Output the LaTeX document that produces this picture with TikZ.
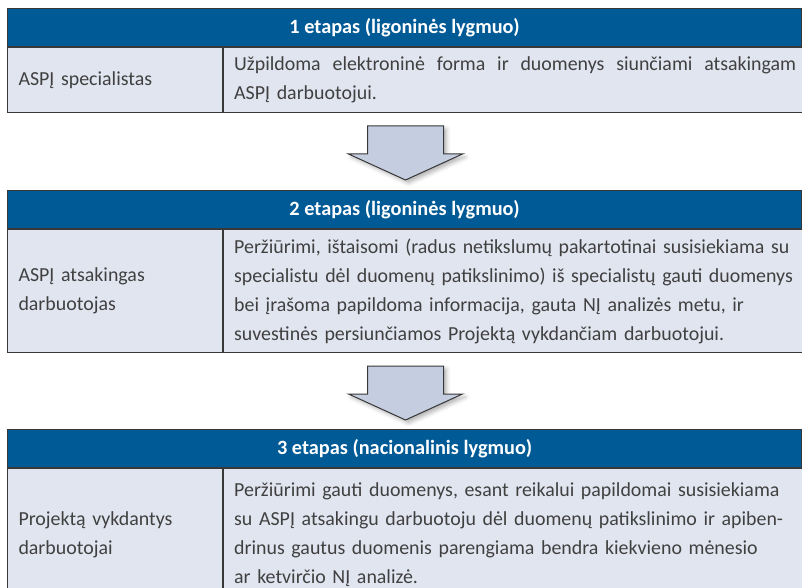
\documentclass[tikz,border=0pt]{standalone}
\usepackage{fontspec}
\setmainfont{Carlito}
\frenchspacing
\usetikzlibrary{shadows.blur,calc,backgrounds}

\definecolor{hdrblue}{HTML}{005A96}
\definecolor{cellfill}{HTML}{E1E5F0}
\definecolor{arrowfill}{HTML}{C5CDE0}
\definecolor{rulegrey}{HTML}{383838}
\definecolor{textgrey}{HTML}{404040}

% a line set flush to both margins
\newcommand{\fullline}[2]{\hbox to #1{\spaceskip=\fontdimen2\font plus 1fil\relax #2}}

\begin{document}
\begin{tikzpicture}[x=1pt,y=-1pt,
  frame/.style={draw=rulegrey, line width=1pt},
  bodyfont/.style={font=\fontsize{19.9}{29}\selectfont, text=textgrey},
  headbox/.style={frame, fill=hdrblue, text=white,
    font=\bfseries\fontsize{20.3}{24}\selectfont,
    minimum width=794pt, minimum height=38pt, inner sep=0pt, anchor=north west},
  rolebox/.style={frame, fill=cellfill, bodyfont, anchor=north west,
    text width=193pt, inner xsep=11pt, inner ysep=0pt, align=left},
  taskbox/.style={frame, fill=cellfill, anchor=north west,
    minimum width=579pt, inner sep=0pt},
  tasktext/.style={bodyfont, anchor=west, text width=575pt, align=left,
    inner sep=0pt, xshift=11pt},
  tableshadow/.style={fill=white, blur shadow={shadow xshift=1pt,
    shadow yshift=-3pt, shadow blur radius=4pt, shadow opacity=35}},
  arrowbody/.style={frame, fill=arrowfill, line join=miter,
    blur shadow={shadow xshift=3pt, shadow yshift=-3pt,
    shadow blur radius=4pt, shadow opacity=30}},
  pics/downarrow/.style={code={
    \draw[arrowbody] (-38,0) -- (38,0) -- (38,28) -- (57,28) -- (0,54)
      -- (-57,28) -- (-38,28) -- cycle;}}
]
\useasboundingbox (0,0) rectangle (802,588);

% stage 1
\node[headbox] (h1) at (7,8) {1 etapas (ligoninės lygmuo)};
\node[rolebox, minimum height=65pt] (r1) at (h1.south west) {ASPĮ specialistas};
\node[taskbox, minimum height=65pt] (d1) at (r1.north east) {};
\node[tasktext] (t1) at (d1.west)
  {\fullline{562pt}{Užpildoma elektroninė forma ir duomenys siunčiami atsakingam}\\
   ASPĮ darbuotojui.};

% stage 2
\node[headbox] (h2) at (7,190) {2 etapas (ligoninės lygmuo)};
\node[rolebox, minimum height=123pt] (r2) at (h2.south west) {ASPĮ atsakingas\\darbuotojas};
\node[taskbox, minimum height=123pt] (d2) at (r2.north east) {};
\node[tasktext] (t2) at (d2.west)
  {Peržiūrimi, ištaisomi (radus netikslumų pakartotinai susisiekiama su\\
   specialistu dėl duomenų patikslinimo) iš specialistų gauti duomenys\\
   bei įrašoma papildoma informacija, gauta NĮ analizės metu, ir\\
   suvestinės persiunčiamos Projektą vykdančiam darbuotojui.};

% stage 3
\node[headbox] (h3) at (7,429) {3 etapas (nacionalinis lygmuo)};
\node[rolebox, minimum height=132pt] (r3) at (h3.south west) {Projektą vykdantys\\darbuotojai};
\node[taskbox, minimum height=132pt] (d3) at (r3.north east) {};
\node[tasktext] (t3) at (d3.west)
  {Peržiūrimi gauti duomenys, esant reikalui papildomai susisiekiama\\
   su ASPĮ atsakingu darbuotoju dėl duomenų patikslinimo ir apiben-\\
   drinus gautus duomenis parengiama bendra kiekvieno mėnesio\\
   ar ketvirčio NĮ analizė.};

% soft shadows behind each table
\begin{pgfonlayer}{background}
  \path[tableshadow] (h1.north west) rectangle (d1.south east);
  \path[tableshadow] (h2.north west) rectangle (d2.south east);
  \path[tableshadow] (h3.north west) rectangle (d3.south east);
\end{pgfonlayer}

% block arrows between stages
\pic at ($(d1.south -| h1.south)+(1,13)$) {downarrow};
\pic at ($(d2.south -| h2.south)+(1,13)$) {downarrow};
\end{tikzpicture}
\end{document}
